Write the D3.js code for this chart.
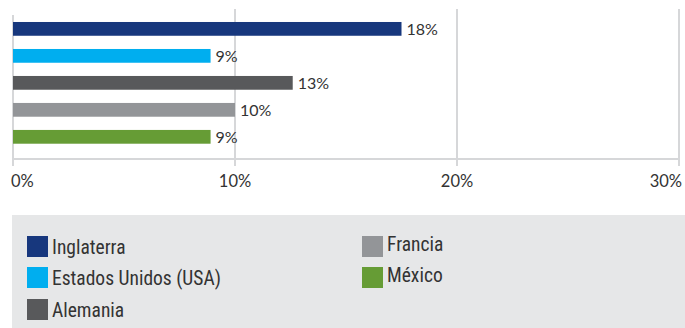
<!DOCTYPE html>
<html>
<head>
<meta charset="utf-8">
<script src="https://cdn.jsdelivr.net/npm/d3@7"></script>
<style>
  html, body { margin: 0; padding: 0; background: #ffffff; }
  svg { display: block; }
</style>
</head>
<body>
<svg id="chart" width="685" height="328"></svg>
<script>
// Share by country (percent)
const countries = ["Inglaterra", "Estados Unidos (USA)", "Alemania", "Francia", "México"];
const shares = [17.5, 8.9, 12.6, 10.0, 8.9];
const colors = ["#17377d", "#00aeef", "#58595b", "#939598", "#669c35"];
const xTicks = [0, 10, 20, 30];

const svg = d3.select("#chart");
const gridColor = "#d6d7d9";
const textColor = "#333333";
const mainFont = "Lato, 'Open Sans', sans-serif";

const x = d3.scaleLinear().domain([0, 30]).range([13, 679]);
const y = d3.scaleBand()
  .domain(countries)
  .range([8.5, 157.2])
  .paddingInner(0.49)
  .paddingOuter(0.5);

const axisY = 159;

// vertical gridlines with ticks below the axis
svg.append("g")
  .selectAll("line")
  .data(xTicks)
  .join("line")
  .attr("x1", d => x(d))
  .attr("x2", d => x(d))
  .attr("y1", d => d === 0 ? 15 : 9)
  .attr("y2", axisY + 7)
  .attr("stroke", gridColor)
  .attr("stroke-width", 2);

// horizontal axis line
svg.append("line")
  .attr("x1", x(0) - 1)
  .attr("x2", x(30) + 1)
  .attr("y1", axisY)
  .attr("y2", axisY)
  .attr("stroke", gridColor)
  .attr("stroke-width", 2);

// tick labels
svg.append("g")
  .selectAll("text")
  .data(xTicks)
  .join("text")
  .attr("x", (d, i) => i === 0 ? x(d) - 2 : i === xTicks.length - 1 ? x(d) + 3 : x(d))
  .attr("y", 187)
  .attr("text-anchor", (d, i) => i === 0 ? "start" : i === xTicks.length - 1 ? "end" : "middle")
  .attr("font-family", mainFont)
  .attr("font-size", 16.5)
  .attr("fill", textColor)
  .text(d => d + "%");

// bars
const rows = countries.map((c, i) => ({ country: c, value: shares[i], color: colors[i] }));

svg.append("g")
  .selectAll("rect")
  .data(rows)
  .join("rect")
  .attr("x", x(0))
  .attr("y", d => y(d.country))
  .attr("width", d => x(d.value) - x(0))
  .attr("height", y.bandwidth())
  .attr("fill", d => d.color);

// value labels
svg.append("g")
  .selectAll("text")
  .data(rows)
  .join("text")
  .attr("x", d => x(d.value) + 5)
  .attr("y", d => y(d.country) + y.bandwidth() / 2)
  .attr("dy", "0.36em")
  .attr("font-family", mainFont)
  .attr("font-size", 16)
  .attr("fill", textColor)
  .text(d => Math.round(d.value) + "%");

// legend panel
svg.append("rect")
  .attr("x", 12)
  .attr("y", 215)
  .attr("width", 685 - 12)
  .attr("height", 328 - 215)
  .attr("fill", "#e6e7e8");

const legendPos = [
  { x: 27, y: 236 },
  { x: 27, y: 267 },
  { x: 27, y: 299 },
  { x: 362, y: 236 },
  { x: 362, y: 267 }
];

const legend = svg.append("g")
  .selectAll("g")
  .data(rows)
  .join("g")
  .attr("transform", (d, i) => `translate(${legendPos[i].x},${legendPos[i].y})`);

legend.append("rect")
  .attr("width", 21)
  .attr("height", 21)
  .attr("fill", d => d.color);

legend.append("text")
  .attr("x", 25)
  .attr("y", (d, i) => i < 3 ? 18 : 15)
  .attr("font-family", "'Liberation Sans Narrow', 'Roboto Condensed', Roboto, sans-serif")
  .attr("font-size", 19.5)
  .attr("fill", textColor)
  .text(d => d.country);
</script>
</body>
</html>
